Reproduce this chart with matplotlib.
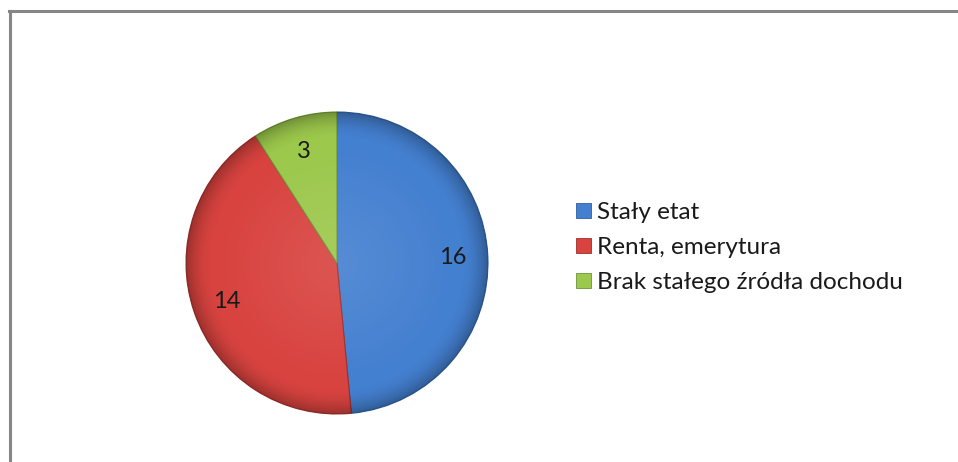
import numpy as np
import matplotlib
matplotlib.use("Agg")
import matplotlib.pyplot as plt
from matplotlib.patches import Circle, Rectangle
from matplotlib.lines import Line2D

categories = ["Stały etat", "Renta, emerytura", "Brak stałego źródła dochodu"]
values = [16, 14, 3]
colors = ["#4480D0", "#D8433F", "#9CC84C"]
edge_colors = ["#2F5F9E", "#9E2E2B", "#6E9236"]

W, H = 958, 462
fig = plt.figure(figsize=(W / 100, H / 100), dpi=100)
fig.patch.set_facecolor("white")

# chart border (top and left visible)
fig.add_artist(Line2D([9.5 / W, 9.5 / W], [0, 1 - 11 / H], transform=fig.transFigure,
                      color="#868686", lw=2.2))
fig.add_artist(Line2D([8.5 / W, 1], [1 - 11 / H, 1 - 11 / H], transform=fig.transFigure,
                      color="#868686", lw=2.2))

cx, cy, r = 337, 263, 151
ax = fig.add_axes([(cx - r) / W, (H - cy - r) / H, 2 * r / W, 2 * r / H])
ax.axis("off")

wedges, texts, autotexts = ax.pie(
    values, colors=colors, startangle=90, counterclock=False, radius=1,
    autopct=lambda p: f"{p * sum(values) / 100:.0f}", pctdistance=0.77,
    wedgeprops=dict(linewidth=0.8), textprops=dict(fontsize=17, family="Lato", color="#1a1a1a"))
for w, ec in zip(wedges, edge_colors):
    w.set_edgecolor(ec)

# bevel-like shading near rim
n = 400
yy, xx = np.mgrid[-1:1:n * 1j, -1:1:n * 1j]
rr = np.sqrt(xx ** 2 + yy ** 2)
shade = np.zeros((n, n, 4))
shade[..., 3] = np.clip((rr - 0.82) / 0.18, 0, 1) ** 2 * 0.28
im = ax.imshow(shade, extent=(-1, 1, -1, 1), origin="lower", zorder=3)
im.set_clip_path(Circle((0, 0), 1, transform=ax.transData))
hl = np.zeros((n, n, 4))
hl[..., :3] = 1
hl[..., 3] = np.clip(1 - rr / 0.8, 0, 1) * 0.10
im2 = ax.imshow(hl, extent=(-1, 1, -1, 1), origin="lower", zorder=3)
im2.set_clip_path(Circle((0, 0), 1, transform=ax.transData))
ax.set_xlim(-1, 1)
ax.set_ylim(-1, 1)
ax.set_aspect("equal")
for t in autotexts:
    t.set_zorder(5)

# legend
handles = [Rectangle((0, 0), 1, 1, facecolor=c, edgecolor=ec, lw=0.6)
           for c, ec in zip(colors, edge_colors)]
leg = fig.legend(handles, categories, loc="upper left",
                 bbox_to_anchor=(576 / W, 1 - 202 / H), frameon=False,
                 prop=dict(family="Lato", size=17.5), handlelength=0.6, handleheight=0.6,
                 handletextpad=0.28, labelspacing=0.58, borderpad=0, borderaxespad=0)
for t in leg.get_texts():
    t.set_color("#1a1a1a")

fig.savefig("out.png", dpi=100, facecolor="white")
